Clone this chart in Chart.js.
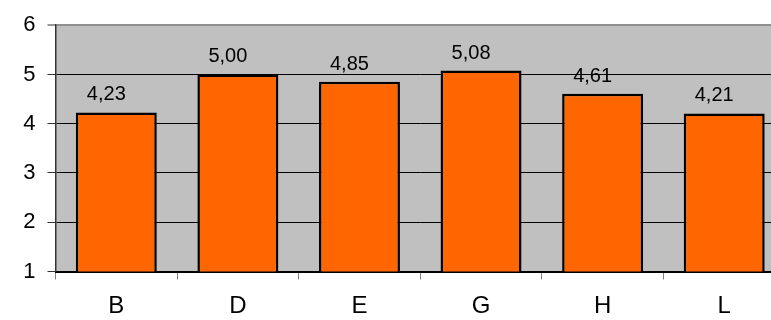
<!DOCTYPE html>
<html>
<head>
<meta charset="utf-8">
<script src="https://cdn.jsdelivr.net/npm/chart.js@4/dist/chart.umd.min.js"></script>
<style>
  html, body { margin: 0; padding: 0; background: #fff; overflow: hidden; }
  #wrap { width: 800px; height: 320px; }
</style>
</head>
<body>
<div id="wrap"><canvas id="c" width="800" height="320"></canvas></div>
<script>
// Categories and their average scores
const categories = ['B', 'D', 'E', 'G', 'H', 'L'];
const scores = [4.23, 5.00, 4.85, 5.08, 4.61, 4.21];
const yMin = 1;
const yMax = 6;

const FONT = '"Liberation Sans", Arial, sans-serif';

// Grey plot-area fill behind the bars
const plotBackground = {
  id: 'plotBackground',
  beforeDraw(chart) {
    const { ctx, chartArea: a } = chart;
    ctx.save();
    ctx.fillStyle = '#c0c0c0';
    ctx.fillRect(a.left, a.top, a.right - a.left, a.bottom - a.top);
    ctx.restore();
  }
};

// Value labels above each bar, written with a decimal comma
const valueLabels = {
  id: 'valueLabels',
  afterDatasetsDraw(chart) {
    const { ctx } = chart;
    const meta = chart.getDatasetMeta(0);
    ctx.save();
    ctx.font = '20px ' + FONT;
    ctx.fillStyle = '#000';
    ctx.textAlign = 'center';
    ctx.textBaseline = 'alphabetic';
    meta.data.forEach((bar, i) => {
      const txt = scores[i].toFixed(2).replace('.', ',');
      ctx.fillText(txt, bar.x - 10, bar.y - 12);
    });
    ctx.restore();
  }
};

new Chart(document.getElementById('c'), {
  type: 'bar',
  data: {
    labels: categories,
    datasets: [{
      data: scores,
      backgroundColor: '#ff6600',
      borderColor: '#000000',
      borderWidth: 2.5,
      borderSkipped: false,
      barPercentage: 0.666,
      categoryPercentage: 1.0
    }]
  },
  options: {
    responsive: false,
    animation: false,
    layout: { padding: { top: 24, right: 15, left: 0, bottom: 0 } },
    plugins: {
      legend: { display: false },
      tooltip: { enabled: false }
    },
    scales: {
      x: {
        afterFit(scale) { scale.height = 48.5; },
        grid: {
          offset: true,
          drawOnChartArea: false,
          drawTicks: true,
          tickLength: 8,
          tickColor: '#808080',
          tickWidth: 1
        },
        border: { display: true, color: '#000', width: 2 },
        ticks: {
          color: '#000',
          padding: 12,
          font: { family: FONT, size: 24 }
        }
      },
      y: {
        min: yMin,
        max: yMax,
        afterFit(scale) { scale.width = 55.5; },
        grid: {
          color: (c) => (c.tick && c.tick.value === yMax ? '#909090' : '#000'),
          lineWidth: (c) => (c.tick && c.tick.value === yMax ? 2 : 1),
          drawTicks: true,
          tickLength: 8,
          tickColor: '#333',
          tickWidth: 1
        },
        border: { display: true, color: '#333', width: 1.5 },
        ticks: {
          stepSize: 1,
          color: '#000',
          padding: 12,
          font: { family: FONT, size: 22 }
        }
      }
    }
  },
  plugins: [plotBackground, valueLabels]
});
</script>
</body>
</html>
